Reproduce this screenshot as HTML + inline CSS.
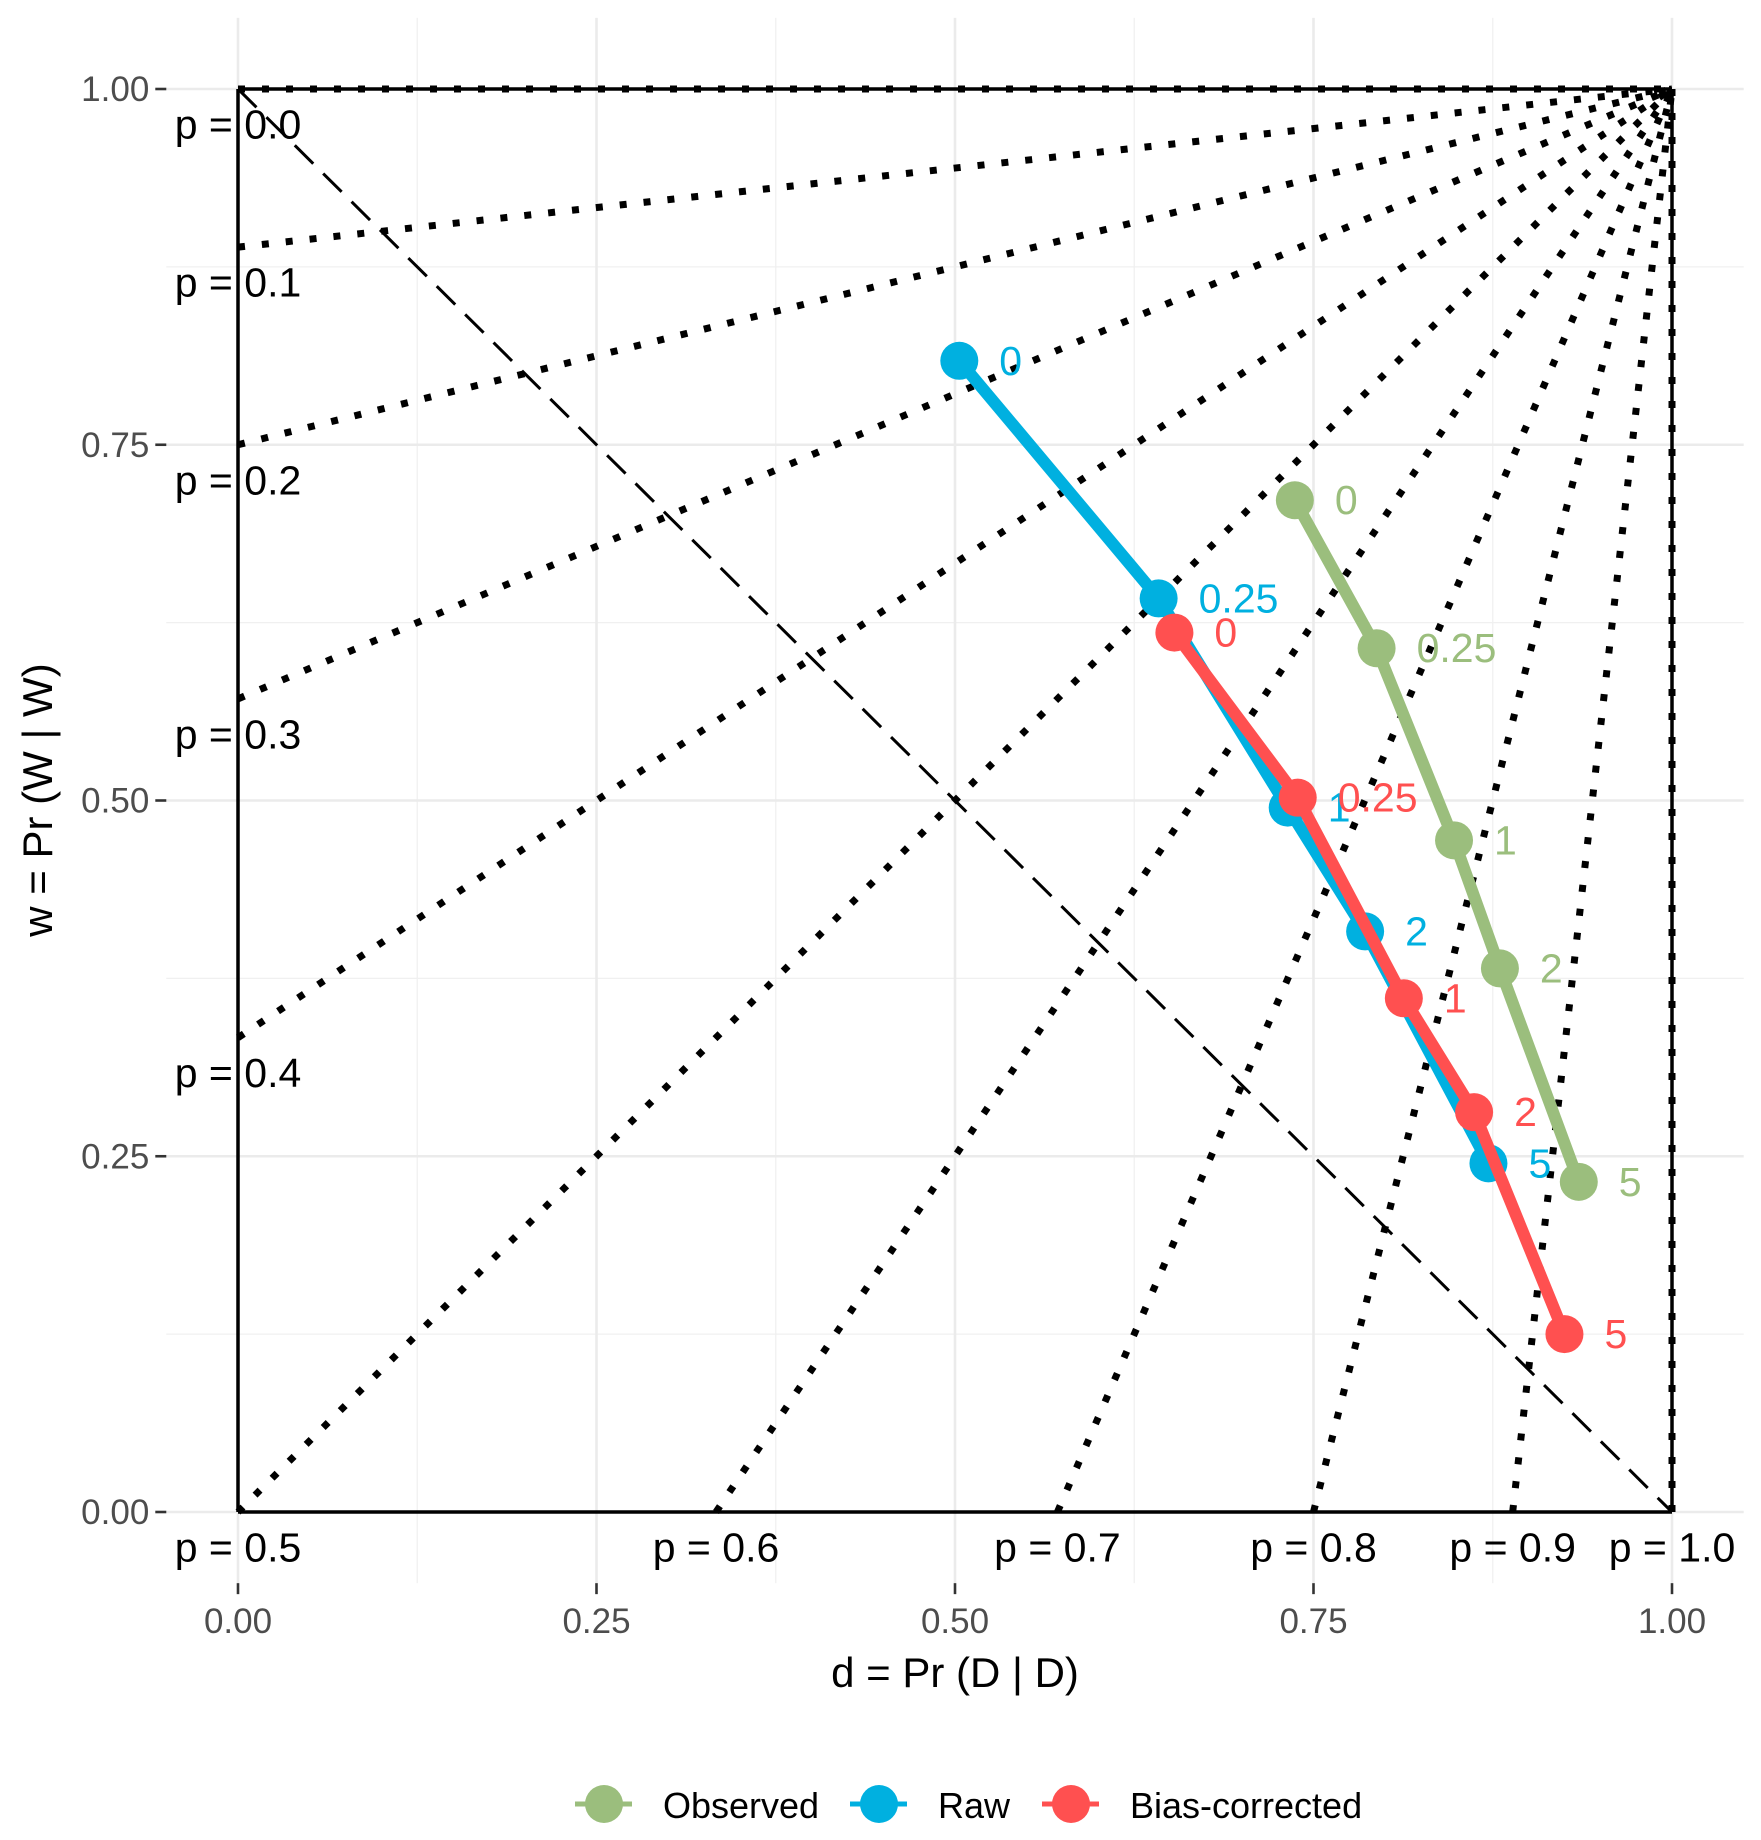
<!DOCTYPE html>
<html><head><meta charset="utf-8"><style>
html,body{margin:0;padding:0;background:#fff;}
svg{display:block;font-family:"Liberation Sans",Arial,sans-serif;}
</style></head><body>
<svg id="chart" width="1761" height="1840" viewBox="0 0 1761 1840" xmlns="http://www.w3.org/2000/svg">
<rect width="1761" height="1840" fill="#fff"/>
<g id="grid"></g>
<g id="iso"></g>
<g id="axes"></g>
<g id="series"></g>
<text x="955" y="1687" font-size="42" text-anchor="middle" fill="#000">d = Pr (D | D)</text>
<text transform="translate(52,800) rotate(-90)" font-size="42" text-anchor="middle" fill="#000">w = Pr (W | W)</text>
<g id="legend"></g>
</svg>
<script>
const seriesNames = ["Observed", "Raw", "Bias-corrected"];
const seriesColors = ["#9BBE7D", "#00B0E0", "#FF5050"];
const pointLabels = ["0", "0.25", "1", "2", "5"];
const obsD = [0.737, 0.794, 0.848, 0.880, 0.935];
const obsW = [0.711, 0.607, 0.472, 0.382, 0.232];
const rawD = [0.503, 0.642, 0.732, 0.786, 0.872];
const rawW = [0.809, 0.642, 0.495, 0.408, 0.245];
const bcD = [0.653, 0.739, 0.813, 0.862, 0.925];
const bcW = [0.618, 0.502, 0.361, 0.281, 0.125];
const pValues = [0.0, 0.1, 0.2, 0.3, 0.4, 0.5, 0.6, 0.7, 0.8, 0.9, 1.0];
const pLabels = ["p = 0.0","p = 0.1","p = 0.2","p = 0.3","p = 0.4","p = 0.5","p = 0.6","p = 0.7","p = 0.8","p = 0.9","p = 1.0"];
const xTicks = [0, 0.25, 0.5, 0.75, 1];
const xTickLabels = ["0.00","0.25","0.50","0.75","1.00"];
const yTicks = [0, 0.25, 0.5, 0.75, 1];
const yTickLabels = ["0.00","0.25","0.50","0.75","1.00"];
const minorTicks = [0.125, 0.375, 0.625, 0.875];

const NS = "http://www.w3.org/2000/svg";
const X = v => 238 + 1434 * v;
const Y = v => 1512 - 1423 * v;
const PX0 = X(-0.05), PX1 = X(1.05), PY0 = Y(1.05), PY1 = Y(-0.05);
function mk(tag, attrs, parent) { const e = document.createElementNS(NS, tag); for (const k in attrs) e.setAttribute(k, attrs[k]); parent.appendChild(e); return e; }
const grid = document.getElementById('grid'), iso = document.getElementById('iso'), axes = document.getElementById('axes'), ser = document.getElementById('series'), leg = document.getElementById('legend');

minorTicks.forEach(t => {
  let l = mk('line', {x1: X(t), x2: X(t), y1: PY0, y2: PY1, stroke: '#F0F0F0', 'stroke-width': 1.3}, grid);
  
  
  l = mk('line', {x1: PX0, x2: PX1, y1: Y(t), y2: Y(t), stroke: '#F0F0F0', 'stroke-width': 1.3}, grid);
  
  
});
xTicks.forEach((t, i) => {
  let l = mk('line', {x1: X(t), x2: X(t), y1: PY0, y2: PY1, stroke: '#EBEBEB', 'stroke-width': 2.6}, grid);
  
  
  l = mk('line', {x1: X(t), x2: X(t), y1: PY1, y2: PY1 + 11, stroke: '#333', 'stroke-width': 2.6}, axes);
  
  
  const tx = mk('text', {x: X(t), y: PY1 + 50, 'font-size': 35, fill: '#4D4D4D', 'text-anchor': 'middle'}, axes);
  tx.textContent = xTickLabels[i];
  
  
});
yTicks.forEach((t, i) => {
  let l = mk('line', {x1: PX0, x2: PX1, y1: Y(t), y2: Y(t), stroke: '#EBEBEB', 'stroke-width': 2.6}, grid);
  
  
  l = mk('line', {x1: PX0 - 11, x2: PX0, y1: Y(t), y2: Y(t), stroke: '#333', 'stroke-width': 2.6}, axes);
  
  
  const tx = mk('text', {x: PX0 - 17, y: Y(t) + 12, 'font-size': 35, fill: '#4D4D4D', 'text-anchor': 'end'}, axes);
  tx.textContent = yTickLabels[i];
  
  
});

// solid border square and dashed diagonal
[[0,0,0,1],[0,0,1,0],[0,1,1,1],[1,0,1,1]].forEach(s => {
  const l = mk('line', {x1: X(s[0]), y1: Y(s[1]), x2: X(s[2]), y2: Y(s[3]), stroke: '#000', 'stroke-width': 3.5}, iso);
  
  
});
const dg = mk('line', {x1: X(0), y1: Y(1), x2: X(1), y2: Y(0), stroke: '#000', 'stroke-width': 3, 'stroke-dasharray': '26 14'}, iso);



pValues.forEach((p, i) => {
  let x0, y0, lx, ly;
  if (p <= 0.5) { x0 = 0; y0 = p === 0.5 ? 0 : (1 - 2 * p) / (1 - p); lx = 0; ly = p === 0.5 ? -0.025 : y0 - 0.025; }
  else { y0 = 0; x0 = (2 * p - 1) / p; lx = x0; ly = -0.025; }
  const l = mk('line', {x1: X(x0), y1: Y(y0), x2: X(1), y2: Y(1), stroke: '#000', 'stroke-width': 7, 'stroke-dasharray': '7 17'}, iso);
  
  
  const t = mk('text', {x: X(lx), y: Y(ly) + 14, 'font-size': 41, fill: '#000', 'text-anchor': 'middle'}, iso);
  t.textContent = pLabels[i];
  
  
});

const allD = [obsD, rawD, bcD], allW = [obsW, rawW, bcW];
allD.forEach((ds, s) => {
  const g = mk('g', {}, ser);
  
  
  const pts = ds.map((d, i) => X(d) + ',' + Y(allW[s][i])).join(' ');
  const pl = mk('polyline', {points: pts, fill: 'none', stroke: seriesColors[s], 'stroke-width': 12, 'stroke-linejoin': 'round'}, g);
  
  
  ds.forEach((d, i) => {
    const c = mk('circle', {cx: X(d), cy: Y(allW[s][i]), r: 19, fill: seriesColors[s]}, g);
    
    
  });
});
allD.forEach((ds, s) => {
  ds.forEach((d, i) => {
    const t = mk('text', {x: X(d) + 40, y: Y(allW[s][i]) + 14, 'font-size': 41, fill: seriesColors[s]}, ser);
    t.textContent = pointLabels[i];
    
    
  });
});

const legX = [575, 850, 1042], legTX = [663, 938, 1130];
seriesNames.forEach((n, i) => {
  const g = mk('g', {}, leg);
  
  
  mk('line', {x1: legX[i], x2: legX[i] + 57, y1: 1804, y2: 1804, stroke: seriesColors[i], 'stroke-width': 5}, g);
  mk('circle', {cx: legX[i] + 29, cy: 1804, r: 19, fill: seriesColors[i]}, g);
  const t = mk('text', {x: legTX[i], y: 1818, 'font-size': 36, fill: '#000'}, g);
  t.textContent = n;
});
</script>
</body></html>
